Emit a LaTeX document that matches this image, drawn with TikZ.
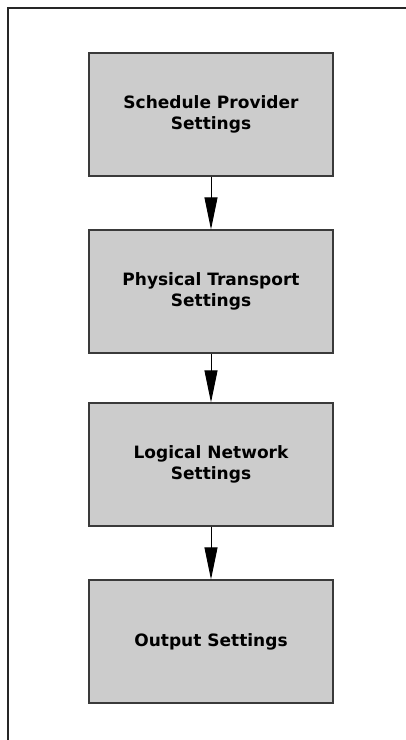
\documentclass[tikz,border=0pt]{standalone}
\usepackage{fontspec}
\setmainfont{DejaVu Sans}
\usetikzlibrary{arrows.meta}
\definecolor{boxfill}{HTML}{CCCCCC}
\definecolor{boxline}{HTML}{3A3A3A}
\tikzset{
  stepbox/.style={draw=boxline, line width=1.2pt, fill=boxfill,
    minimum width=244pt, minimum height=123pt, inner sep=0pt,
    align=center, font=\fontsize{17}{20.5}\selectfont\bfseries, text=black},
  flow/.style={draw=black, line width=0.9pt,
    -{Triangle[length=32pt, width=13pt]}, shorten >=0pt}
}
\begin{document}
\begin{tikzpicture}[x=1pt, y=-1pt]
  \useasboundingbox (0,0) rectangle (406,740);
  % frame (top and left edges)
  \draw[line width=2.8pt, draw=black!85] (8,740) -- (8,8) -- (406,8);
  % the four stages
  \node[stepbox] (sched) at (211,114.5) {Schedule Provider\\Settings};
  \node[stepbox] (phys)  at (211,291.5) {Physical Transport\\Settings};
  \node[stepbox] (logic) at (211,464.5) {Logical Network\\Settings};
  \node[stepbox] (out)   at (211,641.5) {Output Settings};
  % connectors
  \draw[flow] (sched.south) -- (phys.north);
  \draw[flow] (phys.south) -- (logic.north);
  \draw[flow] (logic.south) -- (out.north);
\end{tikzpicture}
\end{document}
